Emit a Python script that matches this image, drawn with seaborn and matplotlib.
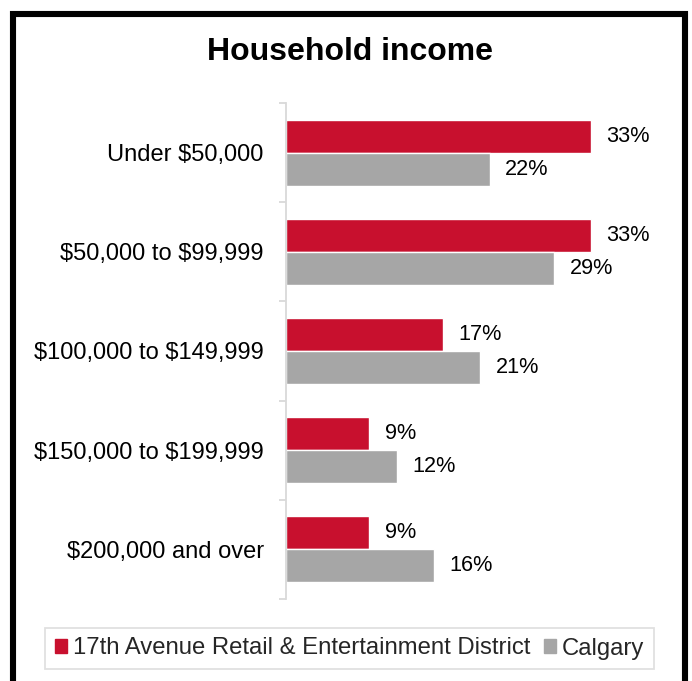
import matplotlib
matplotlib.use("Agg")
import matplotlib.pyplot as plt
import matplotlib.patches as mpatches
from matplotlib.ticker import FixedLocator
import pandas as pd
import seaborn as sns

categories = ["Under $50,000", "$50,000 to $99,999", "$100,000 to $149,999",
              "$150,000 to $199,999", "$200,000 and over"]
series_names = ["17th Avenue Retail & Entertainment District", "Calgary"]
district_pct = [33, 33, 17, 9, 9]
calgary_pct = [22, 29, 21, 12, 16]

RED = "#C8102E"
GREY = "#A6A6A6"
AXIS_GREY = "#D9D9D9"

df = pd.DataFrame({
    "bracket": categories * 2,
    "area": [series_names[0]] * len(categories) + [series_names[1]] * len(categories),
    "pct": district_pct + calgary_pct,
})

sns.set_theme(style="white")
plt.rcParams["font.family"] = ["Liberation Sans", "DejaVu Sans"]
plt.rcParams["text.parse_math"] = False  # dollar signs are literal

fig = plt.figure(figsize=(6.92, 6.81), dpi=100)
ax = fig.add_axes([286 / 692, 1 - 599 / 681, (656 - 286) / 692, (599 - 103) / 681])

sns.barplot(data=df, y="bracket", x="pct", hue="area", order=categories,
            hue_order=series_names, palette=[RED, GREY], width=0.667,
            orient="h", ax=ax, saturation=1, legend=False)

ax.set_xlim(0, 40)
ax.set_ylim(len(categories) - 0.5, -0.5)
ax.set_xlabel("")
ax.set_ylabel("")
ax.set_xticks([])

for c in ax.containers:
    ax.bar_label(c, labels=[f"{int(round(v))}%" for v in c.datavalues],
                 padding=11, fontsize=15.6, color="#000000")

for side in ["top", "right", "bottom"]:
    ax.spines[side].set_visible(False)
ax.spines["left"].set_color(AXIS_GREY)
ax.spines["left"].set_linewidth(1.3)

ax.yaxis.set_minor_locator(FixedLocator([i - 0.5 for i in range(len(categories) + 1)]))
ax.tick_params(axis="y", which="major", length=0, pad=16, labelsize=17,
               labelcolor="#000000")
ax.tick_params(axis="y", which="minor", length=5, width=1.3, color=AXIS_GREY,
               left=True, direction="out")

fig.text(0.506, 1 - 52 / 681, "Household income", ha="center", va="center",
         fontsize=23, fontweight="bold", color="#000000")

handles = [mpatches.Patch(color=RED), mpatches.Patch(color=GREY)]
leg = fig.legend(handles, series_names, loc="center", bbox_to_anchor=(0.505, 1 - 648.5 / 681),
                 ncol=2, frameon=True, fancybox=False, fontsize=17.2,
                 handlelength=0.52, handleheight=0.52, handletextpad=0.25,
                 columnspacing=0.55, borderpad=0.4, borderaxespad=0,
                 edgecolor=AXIS_GREY)
leg.get_frame().set_linewidth(1.3)

# Heavy black frame around the whole chart, open at the bottom edge
fig.add_artist(mpatches.Rectangle((13 / 692, -0.05), (685 - 13) / 692, 1.05 - 14 / 681,
                                  transform=fig.transFigure, fill=False,
                                  edgecolor="#000000", linewidth=4.4))

fig.savefig("out.png", dpi=100, facecolor="white")
